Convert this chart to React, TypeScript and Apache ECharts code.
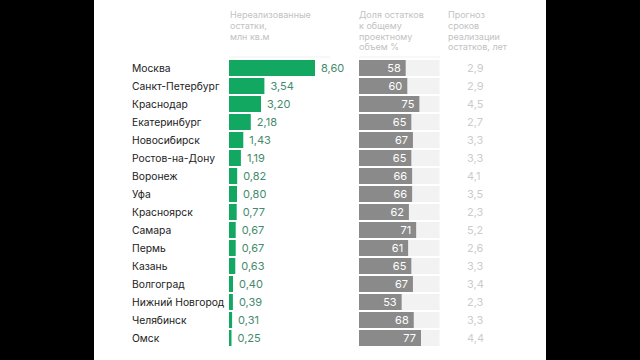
import React, { useEffect, useRef } from "react";
import * as echarts from "echarts";

const cities = ["Москва", "Санкт-Петербург", "Краснодар", "Екатеринбург", "Новосибирск", "Ростов-на-Дону", "Воронеж", "Уфа", "Красноярск", "Самара", "Пермь", "Казань", "Волгоград", "Нижний Новгород", "Челябинск", "Омск"];
const remaining = [8.60, 3.54, 3.20, 2.18, 1.43, 1.19, 0.82, 0.80, 0.77, 0.67, 0.67, 0.63, 0.40, 0.39, 0.31, 0.25];
const share = [58, 60, 75, 65, 67, 65, 66, 66, 62, 71, 61, 65, 67, 53, 68, 77];
const forecast = [2.9, 2.9, 4.5, 2.7, 3.3, 3.3, 4.1, 3.5, 2.3, 5.2, 2.6, 3.3, 3.4, 2.3, 3.3, 4.4];

const header1 = "Нереализованные\nостатки,\nмлн кв.м";
const header2 = "Доля остатков\nк общему\nпроектному\nобъем %";
const header3 = "Прогноз\nсроков\nреализации\nостатков, лет";

const FONT = "Inter, 'Noto Sans', sans-serif";
const fmt = (v: number, d: number) => v.toFixed(d).replace(".", ",");

export default function App() {
  const ref = useRef<HTMLDivElement>(null);
  useEffect(() => {
    const chart = echarts.init(ref.current!, null, { renderer: "svg" });
    const top = 59;
    const height = 288;
    const catAxis = (gi: number, show: boolean) => ({
      type: "category",
      gridIndex: gi,
      data: cities,
      inverse: true,
      axisLine: { show: false },
      axisTick: { show: false },
      axisLabel: show
        ? { show: true, align: "left", margin: 97, color: "#222", fontSize: 10.3, fontFamily: FONT }
        : { show: false },
    });
    const valAxis = (gi: number, max: number) => ({
      type: "value",
      gridIndex: gi,
      min: 0,
      max,
      show: false,
    });
    const headerText = (x: number, text: string) => ({
      type: "text",
      left: x,
      top: 9,
      style: { text, fill: "#c2c2c2", fontSize: 9, fontFamily: FONT, lineHeight: 10.8 },
    });
    chart.setOption({
      animation: false,
      backgroundColor: "#000",
      graphic: [
        { type: "rect", shape: { x: 94, y: 0, width: 452, height: 360 }, style: { fill: "#fff" }, z: -10 },
        headerText(230, header1),
        headerText(359, header2),
        headerText(448, header3),
        { type: "line", shape: { x1: 229, y1: 57, x2: 330, y2: 57 }, style: { stroke: "#eaf4ef", lineWidth: 1 } },
        { type: "line", shape: { x1: 359, y1: 57, x2: 440, y2: 57 }, style: { stroke: "#f0f0f0", lineWidth: 1 } },
      ],
      grid: [
        { left: 229, top, width: 100, height },
        { left: 359, top, width: 80.5, height },
        { left: 467, top, width: 40, height },
      ],
      xAxis: [valAxis(0, 10), valAxis(1, 100), valAxis(2, 1)],
      yAxis: [catAxis(0, true), catAxis(1, false), catAxis(2, false)],
      series: [
        {
          type: "bar",
          xAxisIndex: 0,
          yAxisIndex: 0,
          data: remaining,
          barWidth: 16,
          itemStyle: { color: "#12a862" },
          label: {
            show: true,
            position: "right",
            distance: 6,
            color: "#468a6d",
            fontSize: 11,
            fontFamily: FONT,
            formatter: (p: any) => fmt(p.value, 2),
          },
        },
        {
          type: "bar",
          xAxisIndex: 1,
          yAxisIndex: 1,
          data: share,
          barWidth: 16,
          showBackground: true,
          backgroundStyle: { color: "#f2f2f2" },
          itemStyle: { color: "#8a8a8a" },
          label: {
            show: true,
            position: "insideRight",
            distance: 5,
            color: "#fff",
            fontSize: 11,
            fontFamily: FONT,
          },
        },
        {
          type: "scatter",
          xAxisIndex: 2,
          yAxisIndex: 2,
          symbolSize: 0,
          data: forecast.map((v, i) => [0, i, v]),
          label: {
            show: true,
            position: "right",
            distance: 0,
            color: "#bdbdbd",
            fontSize: 11,
            fontFamily: FONT,
            formatter: (p: any) => fmt(p.value[2], 1),
          },
        },
      ],
    });
    return () => chart.dispose();
  }, []);
  return (
    <div style={{ position: "absolute", left: 0, top: 0, width: 640, height: 360 }}>
      <div ref={ref} style={{ width: 640, height: 360 }} />
    </div>
  );
}
